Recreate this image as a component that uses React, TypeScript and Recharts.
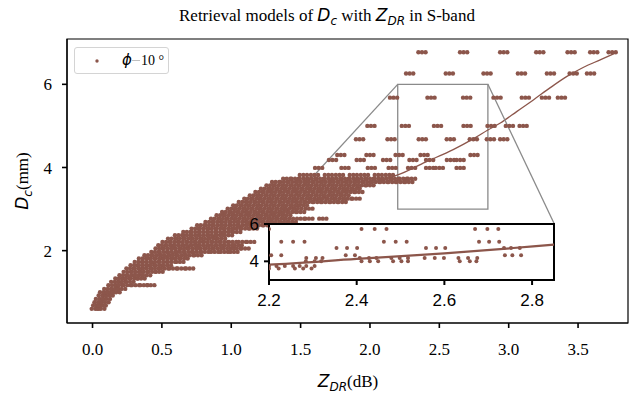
import React from 'react';
import {
  ComposedChart,
  Scatter,
  Line,
  XAxis,
  YAxis,
  ReferenceArea,
  ReferenceLine,
  Legend,
} from 'recharts';

const BROWN = '#8c564b';
const GREY = '#8a8a8a';
const SERIF = '"Liberation Serif","Times New Roman",serif';
const MATH = '"DejaVu Sans",sans-serif';
const SANS = '"Liberation Sans",Arial,sans-serif';

// ---- main scatter, dense lower part: Dc level of each row, ZDR of each dot cluster
const denseDc = [
  0.6, 0.68, 0.76, 0.84, 0.92, 1.0, 1.08, 1.17, 1.25, 1.33, 1.41, 1.49, 1.57, 1.65, 1.73, 1.81, 1.89,
  1.97, 2.05, 2.13, 2.21, 2.29, 2.37, 2.45, 2.53, 2.61, 2.69, 2.77, 2.85, 2.93, 3.01, 3.09, 3.17,
  3.25, 3.33, 3.41, 3.49, 3.57, 3.65, 3.73, 3.82,
];
const denseZdr = [
  [0.02, 0.06],
  [0.03, 0.07],
  [0.04, 0.09],
  [0.05, 0.1],
  [0.07, 0.12],
  [0.08, 0.13, 0.17],
  [0.11, 0.16, 0.21],
  [0.14, 0.19, 0.25, 0.31, 0.37, 0.42],
  [0.16, 0.21, 0.27],
  [0.19, 0.24, 0.3, 0.35],
  [0.22, 0.28, 0.33, 0.39],
  [0.25, 0.31, 0.37, 0.43, 0.48],
  [0.27, 0.33, 0.39, 0.45, 0.52, 0.58, 0.64, 0.7],
  [0.3, 0.36, 0.42, 0.48, 0.54],
  [0.33, 0.39, 0.45, 0.51, 0.57, 0.63],
  [0.36, 0.42, 0.48, 0.54, 0.6, 0.66],
  [0.4, 0.46, 0.52, 0.58, 0.64, 0.7, 0.76],
  [0.45, 0.51, 0.57, 0.63, 0.69, 0.75, 0.81, 0.88, 0.95, 1.02],
  [0.48, 0.54, 0.6, 0.66, 0.72, 0.78, 0.84, 0.9, 0.97, 1.04, 1.1],
  [0.5, 0.56, 0.62, 0.68, 0.74, 0.8, 0.86, 0.92, 0.98, 1.05],
  [0.53, 0.59, 0.65, 0.71, 0.77, 0.83, 0.89, 0.95, 1.01, 1.08, 1.14],
  [0.57, 0.63, 0.69, 0.75, 0.81, 0.87, 0.93],
  [0.62, 0.68, 0.74, 0.8, 0.86, 0.92, 0.98],
  [0.68, 0.74, 0.8, 0.86, 0.92, 0.98, 1.04],
  [0.74, 0.8, 0.86, 0.92, 0.98, 1.04, 1.1, 1.16],
  [0.78, 0.84, 0.9, 0.96, 1.02, 1.08, 1.14, 1.2, 1.26],
  [0.84, 0.9, 0.96, 1.02, 1.08, 1.14, 1.2, 1.26, 1.32, 1.38, 1.44],
  [0.88, 0.94, 1.0, 1.06, 1.12, 1.18, 1.24, 1.3, 1.36, 1.42, 1.5, 1.56, 1.66],
  [0.92, 0.98, 1.04, 1.1, 1.16, 1.22, 1.28, 1.34, 1.4],
  [0.96, 1.02, 1.08, 1.14, 1.2, 1.26, 1.32, 1.38, 1.44, 1.5],
  [1.0, 1.06, 1.12, 1.18, 1.24, 1.3, 1.36, 1.42, 1.48, 1.56],
  [1.04, 1.1, 1.16, 1.22, 1.28, 1.34, 1.4, 1.46, 1.52],
  [1.08, 1.14, 1.2, 1.26, 1.32, 1.38, 1.44, 1.5, 1.56, 1.62, 1.68, 1.74, 1.8],
  [1.12, 1.18, 1.24, 1.3, 1.36, 1.42, 1.48, 1.54, 1.6, 1.66, 1.72, 1.78, 1.84, 1.9],
  [1.16, 1.22, 1.28, 1.34, 1.4, 1.46, 1.52, 1.58, 1.64, 1.7, 1.76, 1.82],
  [1.2, 1.26, 1.32, 1.38, 1.44, 1.5, 1.56, 1.62, 1.68, 1.74, 1.8, 1.86, 1.92],
  [1.24, 1.3, 1.36, 1.42, 1.48, 1.54, 1.6, 1.66, 1.72, 1.78, 1.84, 1.9],
  [1.28, 1.34, 1.4, 1.46, 1.52, 1.58, 1.64, 1.7, 1.76, 1.82, 1.88, 1.94, 2.0],
  [1.32, 1.38, 1.44, 1.5, 1.56, 1.62, 1.68, 1.74, 1.8, 1.86, 1.92, 1.98, 2.04, 2.1, 2.16, 2.22, 2.28],
  [1.4, 1.46, 1.52, 1.58, 1.64, 1.7, 1.76, 1.82, 1.88, 1.94, 2.0, 2.06, 2.12, 2.18, 2.24, 2.3],
  [1.52, 1.6, 1.7, 1.78, 1.88, 1.96, 2.06, 2.14],
];

// ---- main scatter, sparse upper rows
const sparseDc = [3.99, 4.18, 4.3, 4.68, 5.0, 5.68, 6.26, 6.77];
const sparseZdr = [
  [1.63, 1.82, 2.01, 2.16, 2.3, 2.43, 2.5, 2.65],
  [1.73, 1.93, 2.12, 2.31, 2.43, 2.58, 2.65],
  [1.79, 2.0, 2.21, 2.39, 2.75],
  [1.925, 2.152, 2.377, 2.579, 2.745, 2.868, 2.964],
  [2.007, 2.255, 2.487, 2.7, 2.873, 3.005, 3.104],
  [2.17, 2.44, 2.697, 2.916, 3.12, 3.265, 3.38],
  [2.286, 2.572, 2.844, 3.092, 3.301, 3.465, 3.59],
  [2.375, 2.675, 2.964, 3.224, 3.45, 3.613, 3.746],
];

// ---- fitted retrieval curve
const fitZdr = [0.02, 0.2, 0.5, 1.0, 1.5, 1.9, 2.1, 2.2, 2.4, 2.6, 2.75, 2.85, 2.94, 3.06, 3.18, 3.3, 3.42, 3.54, 3.66, 3.78];
const fitDc = [0.62, 1.2, 1.8, 2.5, 3.1, 3.5, 3.72, 3.82, 4.13, 4.43, 4.7, 4.9, 5.07, 5.35, 5.63, 5.92, 6.19, 6.41, 6.59, 6.77];

// ---- inset (zoomed) individual dots
const insetDc = [5.73, 5.05, 4.71, 4.32, 4.18, 4.0, 3.75, 3.62];
const insetZdr = [
  [2.2, 2.411, 2.441, 2.468, 2.67, 2.698, 2.723],
  [2.228, 2.255, 2.281, 2.462, 2.489, 2.514, 2.679, 2.702, 2.725],
  [2.354, 2.378, 2.401, 2.558, 2.581, 2.602, 2.736, 2.752, 2.772],
  [2.205, 2.228, 2.375, 2.396, 2.738, 2.755, 2.775],
  [2.285, 2.307, 2.322, 2.407, 2.428, 2.445, 2.479, 2.498, 2.517, 2.555, 2.578, 2.599, 2.632, 2.654, 2.675],
  [2.284, 2.304, 2.319, 2.411, 2.43, 2.449, 2.483, 2.502, 2.517, 2.635, 2.658, 2.673],
  [2.2, 2.217, 2.236, 2.255, 2.27, 2.285, 2.304],
  [2.2, 2.222, 2.259, 2.278, 2.297],
];

// ---- axes
const mainXDomain = [-0.184, 3.86];
const mainYDomain = [0.26, 7.09];
const mainXTicks = [0, 0.5, 1.0, 1.5, 2.0, 2.5, 3.0, 3.5];
const mainYTicks = [2, 4, 6];
const insetXDomain = [2.2, 2.85];
const insetYDomain = [3, 6];
const insetXTicks = [2.2, 2.4, 2.6, 2.8];
const insetYTicks = [4, 6];
// where the inset's top corners sit, in main-axes units
const insetCornerLeft = { x: 1.275, y: 2.64 };
const insetCornerRight = { x: 3.329, y: 2.64 };

const toPoints = (dcs: number[], zdrs: number[][]) =>
  dcs.flatMap((dc, i) => zdrs[i].map((zdr) => ({ zdr, dc })));

const mainPoints = [...toPoints(denseDc, denseZdr), ...toPoints(sparseDc, sparseZdr)];
const insetPoints = toPoints(insetDc, insetZdr);
const fitData = fitZdr.map((zdr, i) => ({ zdr, dc: fitDc[i] }));

const Cluster = (p: any) => {
  const { cx, cy } = p;
  if (cx == null || cy == null) return <g />;
  return (
    <g fill={BROWN}>
      <circle cx={cx - 3.6} cy={cy} r={2.2} />
      <circle cx={cx} cy={cy} r={2.2} />
      <circle cx={cx + 3.6} cy={cy} r={2.2} />
    </g>
  );
};

const Dot = (p: any) => {
  const { cx, cy } = p;
  if (cx == null || cy == null) return <g />;
  return <circle cx={cx} cy={cy} r={2} fill={BROWN} />;
};

const Title = () => (
  <text x={179} y={21} fontFamily={SERIF} fontSize={17} fill="#000" style={{ whiteSpace: 'pre' }}>
    <tspan>Retrieval models of </tspan>
    <tspan fontFamily={MATH} fontStyle="italic">D</tspan>
    <tspan fontFamily={MATH} fontStyle="italic" fontSize={12} dy={4}>c</tspan>
    <tspan dy={-4}> with </tspan>
    <tspan fontFamily={MATH} fontStyle="italic">Z</tspan>
    <tspan fontFamily={MATH} fontStyle="italic" fontSize={12} dy={4}>DR</tspan>
    <tspan dy={-4}> in S-band</tspan>
  </text>
);

const XTitle = () => (
  <text x={348} y={387} textAnchor="middle" fontFamily={SERIF} fontSize={17} fill="#000">
    <tspan fontFamily={MATH} fontStyle="italic">Z</tspan>
    <tspan fontFamily={MATH} fontStyle="italic" fontSize={12} dy={4}>DR</tspan>
    <tspan dy={-4}>(dB)</tspan>
  </text>
);

const YTitle = () => (
  <text transform="translate(28,181) rotate(-90)" textAnchor="middle" fontFamily={SERIF} fontSize={17} fill="#000">
    <tspan fontFamily={MATH} fontStyle="italic">D</tspan>
    <tspan fontFamily={MATH} fontStyle="italic" fontSize={12} dy={4}>c</tspan>
    <tspan dy={-4}>(mm)</tspan>
  </text>
);

const LegendBox = () => (
  <div
    style={{
      boxSizing: 'border-box',
      width: 95,
      height: 27,
      border: '1px solid #d4d4d4',
      borderRadius: 3,
      background: 'rgba(255,255,255,0.8)',
      position: 'relative',
    }}
  >
    <svg width={95} height={27} style={{ position: 'absolute', left: -1, top: -1 }}>
      <circle cx={23} cy={14} r={1.7} fill={BROWN} />
      <line x1={58} y1={13.5} x2={66} y2={13.5} stroke="#b0b0b0" strokeWidth={0.8} />
      <text x={48} y={18} fontFamily={SERIF} fontSize={14} fill="#000" style={{ whiteSpace: 'pre' }}>
        <tspan fontFamily={MATH} fontStyle="italic" fontSize={15}>ϕ</tspan>
        <tspan dx={9}>10 °</tspan>
      </text>
    </svg>
  </div>
);

const tickLine = { stroke: '#000', strokeWidth: 1.6 };
const frame = { stroke: '#000', strokeWidth: 1.2 };

export default function App() {
  return (
    <div style={{ position: 'absolute', left: 0, top: 0, width: 637, height: 398, background: '#fff' }}>
      <div style={{ position: 'absolute', left: 0, top: 0 }}>
        <ComposedChart width={637} height={398} margin={{ top: 39, right: 9, bottom: 35, left: 0 }}>
          <XAxis
            type="number"
            dataKey="zdr"
            domain={mainXDomain}
            ticks={mainXTicks}
            allowDataOverflow
            tickFormatter={(v: number) => v.toFixed(1)}
            tick={{ fontFamily: SERIF, fontSize: 17, fill: '#000' }}
            tickLine={tickLine}
            axisLine={frame}
            tickSize={5}
            tickMargin={15}
            height={40}
            label={<XTitle />}
          />
          <YAxis
            type="number"
            dataKey="dc"
            domain={mainYDomain}
            ticks={mainYTicks}
            allowDataOverflow
            tick={{ fontFamily: SERIF, fontSize: 17, fill: '#000' }}
            tickLine={tickLine}
            axisLine={frame}
            tickSize={5}
            tickMargin={10}
            width={67}
            label={<YTitle />}
          />
          <Scatter data={mainPoints} dataKey="dc" shape={Cluster} isAnimationActive={false} legendType="circle" name="ϕ 10°" />
          <Line
            data={fitData}
            dataKey="dc"
            type="monotone"
            stroke={BROWN}
            strokeWidth={1.3}
            dot={false}
            activeDot={false}
            isAnimationActive={false}
            legendType="none"
          />
          <ReferenceArea x1={insetXDomain[0]} x2={insetXDomain[1]} y1={insetYDomain[0]} y2={insetYDomain[1]} fill="none" stroke={GREY} strokeWidth={1.3} />
          <ReferenceLine
            segment={[{ x: insetXDomain[0], y: insetYDomain[1] }, insetCornerLeft]}
            stroke={GREY}
            strokeWidth={1.3}
            ifOverflow="visible"
          />
          <ReferenceLine
            segment={[{ x: insetXDomain[1], y: insetYDomain[1] }, insetCornerRight]}
            stroke={GREY}
            strokeWidth={1.3}
            ifOverflow="visible"
          />
          <ReferenceArea
            x1={mainXDomain[0]}
            x2={mainXDomain[1]}
            y1={mainYDomain[0]}
            y2={mainYDomain[1]}
            fill="none"
            stroke="#000"
            strokeWidth={1.2}
            ifOverflow="visible"
            label={<Title />}
          />
          <Legend
            content={<LegendBox />}
            layout="horizontal"
            align="center"
            verticalAlign="middle"
            wrapperStyle={{ left: 74, top: 47, width: 95, height: 27 }}
          />
        </ComposedChart>
      </div>
      <div style={{ position: 'absolute', left: 239, top: 214 }}>
        <ComposedChart width={320} height={96} margin={{ top: 10, right: 5, bottom: 0, left: 0 }}>
          <XAxis
            type="number"
            dataKey="zdr"
            domain={insetXDomain}
            ticks={insetXTicks}
            allowDataOverflow
            tickFormatter={(v: number) => v.toFixed(1)}
            tick={{ fontFamily: SANS, fontSize: 17, fill: '#000' }}
            tickLine={{ stroke: '#000', strokeWidth: 2 }}
            axisLine={{ stroke: '#000', strokeWidth: 2 }}
            tickSize={5}
            tickMargin={9}
            height={30}
          />
          <YAxis
            type="number"
            dataKey="dc"
            domain={insetYDomain}
            ticks={insetYTicks}
            allowDataOverflow
            tick={{ fontFamily: SANS, fontSize: 17, fill: '#000' }}
            tickLine={{ stroke: '#000', strokeWidth: 2 }}
            axisLine={{ stroke: '#000', strokeWidth: 2 }}
            tickSize={5}
            tickMargin={5}
            width={30}
          />
          <ReferenceArea x1={insetXDomain[0]} x2={insetXDomain[1]} y1={insetYDomain[0]} y2={insetYDomain[1]} fill="#fff" fillOpacity={1} stroke="none" />
          <Scatter data={insetPoints} dataKey="dc" shape={Dot} isAnimationActive={false} />
          <Line
            data={fitData}
            dataKey="dc"
            type="monotone"
            stroke={BROWN}
            strokeWidth={2.2}
            dot={false}
            activeDot={false}
            isAnimationActive={false}
          />
          <ReferenceArea
            x1={insetXDomain[0]}
            x2={insetXDomain[1]}
            y1={insetYDomain[0]}
            y2={insetYDomain[1]}
            fill="none"
            stroke="#000"
            strokeWidth={2}
            ifOverflow="visible"
          />
        </ComposedChart>
      </div>
    </div>
  );
}
